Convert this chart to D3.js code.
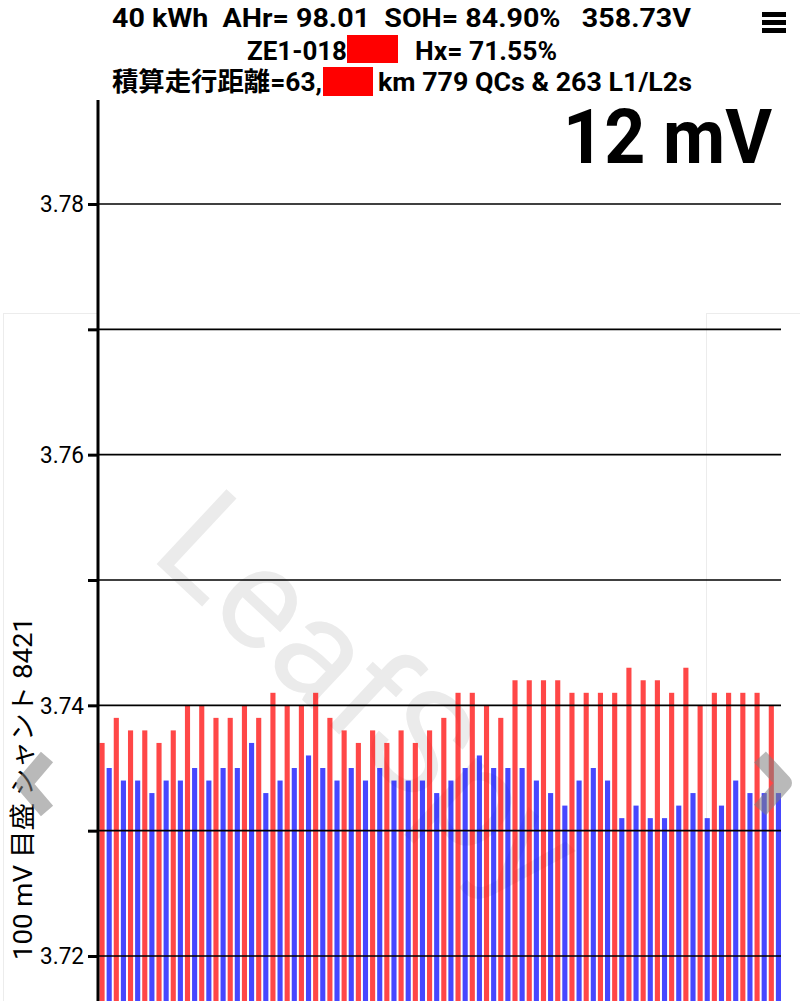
<!DOCTYPE html>
<html>
<head>
<meta charset="utf-8">
<script src="https://cdn.jsdelivr.net/npm/d3@7"></script>
<style>
  body { margin: 0; background: #fff; overflow: hidden; }
  svg { display: block; }
</style>
</head>
<body>
<svg id="chart"></svg>
<script>
// cell voltages in mV, cell 1..96 (odd cells red, even cells blue)
const cellMv = [
  3737, 3735, 3739, 3734, 3738, 3734, 3738, 3733, 3737, 3734, 3738, 3734,
  3740, 3735, 3740, 3734, 3739, 3735, 3739, 3735, 3740, 3737, 3739, 3733,
  3741, 3734, 3740, 3735, 3740, 3736, 3741, 3735, 3739, 3734, 3738, 3735,
  3737, 3734, 3738, 3735, 3737, 3734, 3738, 3734, 3737, 3734, 3738, 3733,
  3739, 3734, 3741, 3735, 3741, 3736, 3740, 3735, 3739, 3735, 3742, 3735,
  3742, 3734, 3742, 3733, 3742, 3732, 3741, 3734, 3741, 3735, 3741, 3734,
  3741, 3731, 3743, 3732, 3742, 3731, 3742, 3731, 3741, 3732, 3743, 3733,
  3740, 3731, 3741, 3732, 3741, 3734, 3741, 3733, 3741, 3733, 3740, 3733
];
const yTicks = [3.72, 3.73, 3.74, 3.75, 3.76, 3.77, 3.78];
const yLabelled = [3.72, 3.74, 3.76, 3.78];
const yTitle = "100 mV 目盛 シャント 8421";
const header1 = "40 kWh  AHr= 98.01  SOH= 84.90%   358.73V";
const header2a = "ZE1-018";
const header2b = "Hx= 71.55%";
const header3a = "積算走行距離=63,";
const header3b = "km 779 QCs & 263 L1/L2s";
const spreadLabel = "12 mV";
const watermark = "LeafSpy";

const width = 800, height = 1001;
const font = "Roboto, 'Noto Sans CJK JP', sans-serif";
const left = 98, right = 781;
const keepSpaces = s => s.replace(/ /g, "\u00a0");

const svg = d3.select("#chart")
  .attr("width", width)
  .attr("height", height)
  .style("font-family", font);

const x = d3.scaleBand()
  .domain(d3.range(cellMv.length))
  .range([left + 1.5, right])
  .paddingInner(0.28)
  .paddingOuter(0);

const y = d3.scaleLinear()
  .domain([3.72, 3.78])
  .range([956, 204]);
const yBase = 3.716;

// faint carousel panels
svg.append("g")
  .attr("fill", "none")
  .attr("stroke", "#ececec")
  .selectAll("rect")
  .data([[3, 94], [706, 100]])
  .join("rect")
  .attr("x", d => d[0] + 0.5)
  .attr("y", 313.5)
  .attr("width", d => d[1])
  .attr("height", 720);

// watermark
svg.append("text")
  .attr("transform", "translate(148,556) rotate(43)")
  .attr("font-size", 144)
  .attr("font-weight", 400)
  .attr("fill", "#ebebeb")
  .text(watermark);

// bars
svg.append("g")
  .selectAll("rect")
  .data(cellMv)
  .join("rect")
  .attr("x", (d, i) => x(i))
  .attr("width", x.bandwidth())
  .attr("y", d => y(d / 1000))
  .attr("height", d => y(yBase) - y(d / 1000))
  .attr("fill", (d, i) => i % 2 === 0 ? "#ff0000" : "#0000ff")
  .attr("fill-opacity", 0.72);

// gridlines
svg.append("g")
  .attr("stroke", "#000")
  .attr("stroke-width", 1.6)
  .selectAll("line")
  .data(yTicks)
  .join("line")
  .attr("x1", left)
  .attr("x2", right)
  .attr("y1", d => y(d))
  .attr("y2", d => y(d));

// y axis
const axis = d3.axisLeft(y)
  .tickValues(yTicks)
  .tickSize(10)
  .tickPadding(4)
  .tickFormat(d => yLabelled.some(v => Math.abs(v - d) < 1e-9) ? d3.format(".2f")(d) : "");

const ax = svg.append("g")
  .attr("transform", `translate(${left},0)`)
  .call(axis);
ax.select(".domain").remove();
ax.selectAll(".tick line").attr("stroke", "#000").attr("stroke-width", 3);
ax.selectAll(".tick text")
  .attr("font-size", 24)
  .attr("font-family", font)
  .attr("fill", "#000")
  .attr("textLength", d => yLabelled.some(v => Math.abs(v - d) < 1e-9) ? 44 : null)
  .attr("lengthAdjust", "spacingAndGlyphs");

svg.append("line")
  .attr("x1", left).attr("x2", left)
  .attr("y1", 100).attr("y2", height)
  .attr("stroke", "#000")
  .attr("stroke-width", 3);

// y title
svg.append("text")
  .attr("transform", "translate(32,960) rotate(-90)")
  .attr("font-size", 26)
  .attr("textLength", 343)
  .attr("lengthAdjust", "spacingAndGlyphs")
  .attr("fill", "#000")
  .text(yTitle);

// header
const head = svg.append("g")
  .attr("font-weight", "bold")
  .attr("font-size", 26)
  .attr("fill", "#000");

const headTexts = [
  [header1, 112, 27, 579],
  [header2a, 247, 60, 100],
  [header2b, 415, 60, 142],
  [header3a, 112, 91, 210],
  [header3b, 378, 91, 314]
];
head.selectAll("text")
  .data(headTexts)
  .join("text")
  .attr("x", d => d[1])
  .attr("y", d => d[2])
  .attr("textLength", d => d[3])
  .attr("lengthAdjust", "spacingAndGlyphs")
  .text(d => keepSpaces(d[0]));

// redaction boxes
svg.append("g")
  .attr("fill", "#ff0000")
  .selectAll("rect")
  .data([[347, 35, 51, 28], [323, 67, 50, 29]])
  .join("rect")
  .attr("x", d => d[0])
  .attr("y", d => d[1])
  .attr("width", d => d[2])
  .attr("height", d => d[3]);

// spread label
svg.append("text")
  .attr("x", 772)
  .attr("y", 163)
  .attr("text-anchor", "end")
  .attr("font-size", 76)
  .attr("font-weight", "bold")
  .attr("textLength", 209)
  .attr("lengthAdjust", "spacingAndGlyphs")
  .text(spreadLabel);

// menu icon
svg.append("g")
  .selectAll("rect")
  .data([12, 20, 28])
  .join("rect")
  .attr("x", 762)
  .attr("y", d => d)
  .attr("width", 24)
  .attr("height", 5)
  .attr("fill", "#000");

// carousel chevrons
svg.append("g")
  .attr("fill", "none")
  .attr("stroke", "#808080")
  .attr("stroke-opacity", 0.55)
  .attr("stroke-width", 16)
  .attr("stroke-linejoin", "round")
  .selectAll("path")
  .data(["M47,757L24,784L47,811", "M760,757L784,783L760,810"])
  .join("path")
  .attr("d", d => d);
</script>
</body>
</html>
